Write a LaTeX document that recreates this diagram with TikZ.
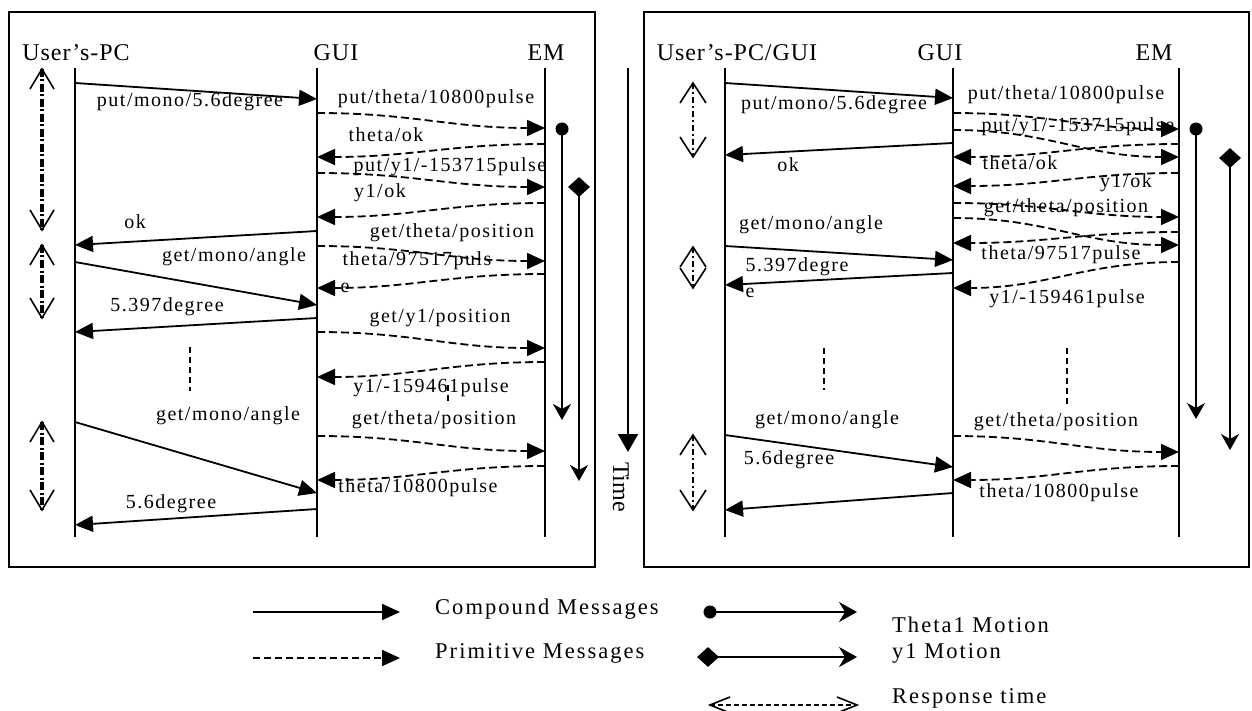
\documentclass[tikz,border=0pt]{standalone}
\usepackage{fontspec}
\setmainfont{Liberation Serif}
\newfontfamily\lblfont[LetterSpace=7.5]{Liberation Serif}
\newfontfamily\legfont[LetterSpace=9]{Liberation Serif}
\newfontfamily\hdrfont[LetterSpace=4]{Liberation Serif}
\usetikzlibrary{arrows.meta,shapes.geometric}

\newcommand{\cmpmsg}[5]{%
  \coordinate (#1s) at #2; \coordinate (#1e) at #3;
  \draw[cmsg] (#1s) -- (#1e);
  \node[lbl] (#1l) at #5 {#4};}
\newcommand{\primsg}[6]{%
  \coordinate (#1s) at #2; \coordinate (#1e) at #3;
  \draw[pmsg] (#1s) .. controls +({#6*95},0) and +({-#6*95},0) .. (#1e);
  \node[lbl] (#1l) at #5 {#4};}
% name, top, bottom, line style, half width, length
\newcommand{\respmark}[6]{%
  \coordinate (#1t) at #2; \coordinate (#1b) at #3;
  \draw[#4] (#1t) -- (#1b);
  \draw[chev] (#1t) ++(-#5,#6) -- (#1t) -- ++(#5,#6);
  \draw[chev] (#1b) ++(-#5,-#6) -- (#1b) -- ++(#5,-#6);}

\begin{document}
\begin{tikzpicture}[x=1pt,y=-1pt,
  lbl/.style={font=\lblfont\fontsize{20}{22}\selectfont, inner sep=0pt},
  leg/.style={font=\legfont\fontsize{22.5}{24}\selectfont, inner sep=0pt, anchor=west},
  hdr/.style={font=\hdrfont\fontsize{24}{26}\selectfont, inner sep=0pt},
  lifeline/.style={line width=2pt},
  panel/.style={line width=1.8pt},
  cmsg/.style={line width=1.8pt, -{Triangle[length=18pt,width=16pt]}},
  pmsg/.style={line width=1.8pt, dash pattern=on 8pt off 4pt, -{Triangle[length=18pt,width=16pt]}},
  motion/.style={line width=2pt, -{Stealth[length=16pt,width=18pt,inset=5pt]}},
  legmotion/.style={line width=2pt, -{Stealth[length=18pt,width=20pt,inset=6pt]}},
  timearrow/.style={line width=2pt, -{Triangle[length=18pt,width=20pt]}},
  dotsline/.style={line width=2.4pt, dash pattern=on 6pt off 4pt},
  chev/.style={line width=1.6pt, solid, line join=miter},
  respL/.style={line width=3.6pt, dash pattern=on 8pt off 2.5pt on 2pt off 2.5pt},
  respR/.style={line width=1.4pt, dash pattern=on 6pt off 3pt on 2pt off 3pt},
  respLeg/.style={line width=1.3pt, dash pattern=on 5pt off 3pt},
  dotnode/.style={circle, fill=black, inner sep=0pt, minimum size=13pt},
  diamnode/.style={diamond, fill=black, inner sep=0pt, minimum width=22pt, minimum height=20pt},
]
\useasboundingbox (0,0) rectangle (1252,711);

% panels
\draw[panel] (9,12) rectangle (595,567);
\draw[panel] (644,12) rectangle (1249,567);

% headers
\node[hdr] (hUL) at (76,53) {User’s-PC};
\node[hdr] (hGL) at (336,53) {GUI};
\node[hdr] (hEL) at (546,53) {EM};
\node[hdr] (hUR) at (737,53) {User’s-PC/GUI};
\node[hdr] (hGR) at (940,53) {GUI};
\node[hdr] (hER) at (1154,53) {EM};

% lifelines
\coordinate (uLt) at (75,68); \coordinate (uLb) at (75,537);
\coordinate (gLt) at (317,68); \coordinate (gLb) at (317,537);
\coordinate (eLt) at (545,68); \coordinate (eLb) at (545,537);
\coordinate (uRt) at (725,68); \coordinate (uRb) at (725,537);
\coordinate (gRt) at (953,68); \coordinate (gRb) at (953,537);
\coordinate (eRt) at (1179,68); \coordinate (eRb) at (1179,537);
\foreach \n in {uL,gL,eL,uR,gR,eR} \draw[lifeline] (\n t) -- (\n b);

% ---------- left panel ----------
\cmpmsg{c1}{(75,83)}{(317,99)}{put/mono/5.6degree}{(190,102)}
\cmpmsg{c2}{(317,231)}{(75,245)}{ok}{(135,222)}
\cmpmsg{c3}{(75,262)}{(317,305)}{get/mono/angle}{(234,257)}
\cmpmsg{c4}{(317,318)}{(75,332)}{5.397degree}{(167,307)}
\cmpmsg{c5}{(75,422)}{(317,493)}{get/mono/angle}{(228,416)}
\cmpmsg{c6}{(317,509)}{(75,525)}{5.6degree}{(171,504)}

\primsg{p1}{(317,113)}{(545,128)}{put/theta/10800pulse}{(436,99)}{1}
\primsg{p2}{(545,144)}{(317,157)}{theta/ok}{(386,135)}{-1}
\primsg{p3}{(317,173)}{(545,187)}{put/y1/-153715pulse}{(450,167)}{1}
\primsg{p4}{(545,203)}{(317,217)}{y1/ok}{(380,193)}{-1}
\primsg{p5}{(317,246)}{(545,261)}{get/theta/position}{(452,233)}{1}
\primsg{p6}{(545,274)}{(317,288)}{theta/97517puls}{(417,261)}{-1}
\node[lbl] (p6x) at (345,288) {e};
\primsg{p7}{(317,332)}{(545,348)}{get/y1/position}{(440,318)}{1}
\primsg{p8}{(545,362)}{(317,377)}{y1/-159461pulse}{(431,388)}{-1}
\primsg{p9}{(317,436)}{(545,451)}{get/theta/position}{(434,420)}{1}
\primsg{p10}{(545,466)}{(317,480)}{theta/10800pulse}{(418,488)}{-1}

\coordinate (dL1t) at (190,347); \coordinate (dL1b) at (190,391);
\draw[dotsline] (dL1t) -- (dL1b);
\coordinate (dL2t) at (448,385); \coordinate (dL2b) at (448,405);
\draw[dotsline] (dL2t) -- (dL2b);

\respmark{rL1}{(42,69)}{(42,230)}{respL}{12}{20}
\respmark{rL2}{(42,245)}{(42,318)}{respL}{12}{20}
\respmark{rL3}{(42,422)}{(42,510)}{respL}{12}{20}

\node[dotnode] (thL) at (562,129) {};
\coordinate (thLe) at (562,420);
\draw[motion] (thL.center) -- (thLe);
\node[diamnode] (yL) at (579,187) {};
\coordinate (yLe) at (579,481);
\draw[motion] (yL.center) -- (yLe);

% time arrow
\coordinate (tmt) at (628,68); \coordinate (tmb) at (628,452);
\draw[timearrow] (tmt) -- (tmb);
\node[font=\fontsize{24}{26}\selectfont, rotate=-90, inner sep=0pt] (tmlbl) at (621,487) {Time};

% ---------- right panel ----------
\cmpmsg{d1}{(725,83)}{(953,98)}{put/mono/5.6degree}{(834,105)}
\cmpmsg{d2}{(953,143)}{(725,155)}{ok}{(788,165)}
\cmpmsg{d3}{(725,246)}{(953,260)}{get/mono/angle}{(811,225)}
\cmpmsg{d4}{(953,273)}{(725,285)}{5.397degre}{(797,267)}
\node[lbl] (d4x) at (750,293) {e};
\cmpmsg{d5}{(725,435)}{(953,467)}{get/mono/angle}{(827,420)}
\cmpmsg{d6}{(953,493)}{(725,510)}{5.6degree}{(789,460)}

\primsg{q1}{(953,113)}{(1179,129)}{put/theta/10800pulse}{(1066,95)}{1}
\primsg{q2}{(953,130)}{(1179,157)}{put/y1/-153715pulse}{(1078,127)}{1}
\primsg{q3}{(1179,144)}{(953,157)}{theta/ok}{(1020,163)}{-1}
\primsg{q4}{(1179,173)}{(953,186)}{y1/ok}{(1126,183)}{-1}
\primsg{q5}{(953,203)}{(1179,217)}{get/theta/position}{(1066,208)}{1}
\coordinate (q6s) at (953,218); \coordinate (q6e) at (1179,245);
\draw[pmsg] (q6s) .. controls +(95,0) and +(-95,0) .. (q6e);
\primsg{q7}{(1179,232)}{(953,243)}{theta/97517pulse}{(1061,255)}{-1}
\primsg{q8}{(1179,262)}{(953,288)}{y1/-159461pulse}{(1067,299)}{-1}
\primsg{q9}{(953,436)}{(1179,452)}{get/theta/position}{(1056,422)}{1}
\primsg{q10}{(1179,466)}{(953,480)}{theta/10800pulse}{(1059,493)}{-1}

\coordinate (dR1t) at (824,348); \coordinate (dR1b) at (824,390);
\draw[dotsline] (dR1t) -- (dR1b);
\coordinate (dR2t) at (1067,348); \coordinate (dR2b) at (1067,405);
\draw[dotsline] (dR2t) -- (dR2b);

\respmark{rR1}{(693,83)}{(693,157)}{respR}{13}{20}
\respmark{rR2}{(693,247)}{(693,288)}{respR}{13}{20}
\respmark{rR3}{(693,435)}{(693,510)}{respR}{13}{20}

\node[dotnode] (thR) at (1196,129) {};
\coordinate (thRe) at (1196,419);
\draw[motion] (thR.center) -- (thRe);
\node[diamnode] (yR) at (1230,158) {};
\coordinate (yRe) at (1230,450);
\draw[motion] (yR.center) -- (yRe);

% ---------- legend ----------
\coordinate (lg1s) at (253,612); \coordinate (lg1e) at (400,612);
\draw[cmsg] (lg1s) -- (lg1e);
\node[leg] (lg1l) at (435,609) {Compound Messages};
\coordinate (lg2s) at (253,658); \coordinate (lg2e) at (400,658);
\draw[line width=1.8pt, dash pattern=on 7pt off 4pt, -{Triangle[length=18pt,width=16pt]}] (lg2s) -- (lg2e);
\node[leg] (lg2l) at (435,653) {Primitive Messages};

\node[dotnode] (lg3s) at (710,612) {};
\coordinate (lg3e) at (857,612);
\draw[legmotion] (lg3s.center) -- (lg3e);
\node[leg] (lg3l) at (892,625) {Theta1 Motion};
\node[diamnode] (lg4s) at (708,657) {};
\coordinate (lg4e) at (857,657);
\draw[legmotion] (lg4s.center) -- (lg4e);
\node[leg] (lg4l) at (892,653) {y1 Motion};
\coordinate (lg5s) at (710,705); \coordinate (lg5e) at (857,705);
\draw[respLeg] (lg5s) -- (lg5e);
\draw[chev] (lg5s) ++(20,-8) -- (lg5s) -- ++(20,8);
\draw[chev] (lg5e) ++(-20,-8) -- (lg5e) -- ++(-20,8);
\node[leg] (lg5l) at (892,698) {Response time};
\end{tikzpicture}
\end{document}
